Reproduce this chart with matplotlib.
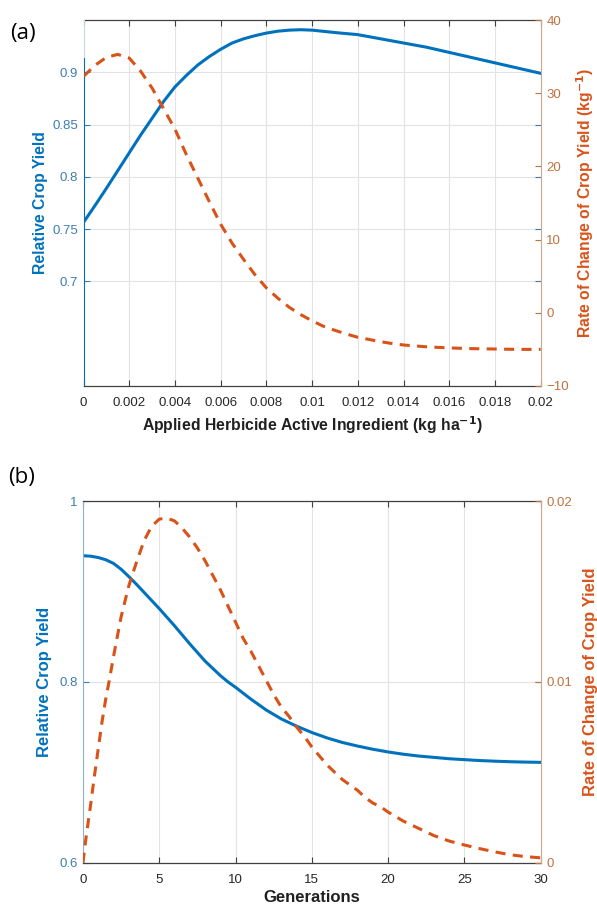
import numpy as np
import matplotlib
matplotlib.use("Agg")
import matplotlib.pyplot as plt

plt.rcParams['font.family'] = ['Liberation Sans', 'DejaVu Sans']

# ---------------- Panel (a) data ----------------
herb_x = [0.0, 0.0005, 0.001, 0.0015, 0.002, 0.0025, 0.003, 0.0035, 0.004,
          0.0045, 0.005, 0.0055, 0.006, 0.0065, 0.007, 0.0075, 0.008, 0.0085,
          0.009, 0.0095, 0.010, 0.011, 0.012, 0.013, 0.014, 0.015, 0.016,
          0.017, 0.018, 0.019, 0.020]
herb_yield = [0.7565, 0.7725, 0.789, 0.806, 0.823, 0.840, 0.856, 0.872, 0.886,
              0.897, 0.907, 0.915, 0.922, 0.928, 0.932, 0.935, 0.9375, 0.9393,
              0.9403, 0.9407, 0.9403, 0.938, 0.936, 0.932, 0.928, 0.924,
              0.919, 0.914, 0.909, 0.904, 0.899]

rate_x = [0.0, 0.0005, 0.001, 0.0015, 0.002, 0.0025, 0.003, 0.0035, 0.004,
          0.0045, 0.005, 0.0055, 0.006, 0.0065, 0.007, 0.0075, 0.008, 0.0085,
          0.009, 0.0095, 0.010, 0.0105, 0.011, 0.0115, 0.012, 0.0125, 0.013,
          0.0135, 0.014, 0.015, 0.016, 0.017, 0.018, 0.019, 0.020]
rate_a = [32.3, 33.8, 34.9, 35.3, 34.8, 33.0, 30.7, 27.9, 25.1, 21.6, 18.4,
          15.2, 12.1, 9.5, 7.3, 5.2, 3.4, 2.0, 0.75, -0.25, -1.1, -1.85, -2.4,
          -2.9, -3.35, -3.65, -3.95, -4.2, -4.4, -4.65, -4.8, -4.9, -4.95,
          -5.0, -5.0]

xticks_a = [0, 0.002, 0.004, 0.006, 0.008, 0.01, 0.012, 0.014, 0.016, 0.018, 0.02]
xticklabels_a = ['0', '0.002', '0.004', '0.006', '0.008', '0.01', '0.012',
                 '0.014', '0.016', '0.018', '0.02']
yticks_a_left = [0.7, 0.75, 0.8, 0.85, 0.9]
yticklabels_a_left = ['0.7', '0.75', '0.8', '0.85', '0.9']
yticks_a_right = [-10, 0, 10, 20, 30, 40]

# ---------------- Panel (b) data ----------------
gen_x = [0, 0.5, 1, 1.5, 2, 2.5, 3, 3.5, 4, 4.5, 5, 5.5, 6, 6.5, 7, 7.5, 8,
         8.5, 9, 9.5, 10, 11, 12, 13, 14, 15, 16, 17, 18, 19, 20, 21, 22, 23,
         24, 25, 26, 27, 28, 29, 30]
gen_yield = [0.9395, 0.939, 0.9375, 0.935, 0.931, 0.9245, 0.9165, 0.908,
             0.899, 0.890, 0.881, 0.8715, 0.862, 0.852, 0.842, 0.8325, 0.823,
             0.815, 0.807, 0.800, 0.794, 0.781, 0.769, 0.759, 0.751, 0.744,
             0.738, 0.733, 0.729, 0.7255, 0.7225, 0.720, 0.718, 0.7165, 0.715,
             0.714, 0.713, 0.7123, 0.7117, 0.7113, 0.711]

gen_rate_x = [0, 0.125, 0.25, 0.5, 0.75, 1.0, 1.25, 1.5, 1.75, 2.0, 2.5, 3.0,
              3.5, 4.0, 4.5, 5.0, 5.5, 6.0, 6.5, 7.0, 7.5, 8.0, 8.5, 9.0, 9.5,
              10, 10.5, 11, 11.5, 12, 12.5, 13, 13.5, 14, 14.5, 15, 15.5, 16,
              16.5, 17, 17.5, 18, 18.5, 19, 19.5, 20, 21, 22, 23, 24, 25, 26,
              27, 28, 29, 30]
gen_rate = [0.0, 0.0009, 0.0017, 0.0032, 0.0048, 0.0063, 0.0078, 0.0091,
            0.0102, 0.0114, 0.0136, 0.0153, 0.0166, 0.0178, 0.0186, 0.0190,
            0.01905, 0.0189, 0.0185, 0.0180, 0.0174, 0.0167, 0.0159, 0.0151,
            0.0142, 0.0133, 0.0124, 0.0117, 0.0109, 0.0101, 0.0093, 0.0086,
            0.0081, 0.0075, 0.0070, 0.0064, 0.0059, 0.0054, 0.0050, 0.0046,
            0.0043, 0.0040, 0.0036, 0.0033, 0.0031, 0.0028, 0.0023, 0.0019,
            0.0015, 0.0012, 0.00098, 0.00078, 0.0006, 0.00044, 0.00034,
            0.00027]

xticks_b = [0, 5, 10, 15, 20, 25, 30]
yticks_b_left = [0.6, 0.8, 1.0]
yticklabels_b_left = ['0.6', '0.8', '1']
yticks_b_right = [0, 0.01, 0.02]
yticklabels_b_right = ['0', '0.01', '0.02']

# ---------------- style ----------------
BLUE = '#0072BD'
ORANGE = '#D95319'
BLUE_TICK = '#3D7DB0'
ORANGE_TICK = '#C0713F'
GRID = '#E3E3E3'
FRAME = '#404040'
TICK_FS = 9.5
LABEL_FS_A = 11.3
LABEL_FS_B = 12

fig = plt.figure(figsize=(5.97, 9.05), dpi=100)


def style_axes(ax1, ax2, left_spine_color, right_spine_color):
    ax1.grid(True, color=GRID, linewidth=0.8)
    ax1.set_axisbelow(True)
    for s in ['top', 'bottom']:
        ax1.spines[s].set_color(FRAME)
        ax1.spines[s].set_linewidth(0.9)
    ax1.spines['left'].set_color(left_spine_color)
    ax1.spines['right'].set_visible(False)
    ax2.spines['right'].set_color(right_spine_color)
    ax2.spines['left'].set_visible(False)
    ax2.spines['top'].set_visible(False)
    ax2.spines['bottom'].set_visible(False)
    ax1.tick_params(axis='x', direction='in', top=True, length=4,
                    color=FRAME, labelsize=TICK_FS, labelcolor='#262626', pad=8)
    ax1.tick_params(axis='y', direction='in', length=4, right=True,
                    color=BLUE_TICK, labelsize=TICK_FS, labelcolor=BLUE_TICK, pad=4)
    ax2.tick_params(axis='y', direction='in', length=4,
                    color=ORANGE_TICK, labelsize=TICK_FS, labelcolor=ORANGE_TICK, pad=4)


DASH = (0, (3.3, 2.4))

# ---------------- (a) ----------------
axa = fig.add_axes([0.1399, 0.5735, 0.7658, 0.4044])
axa2 = axa.twinx()
axa.plot(herb_x, herb_yield, color=BLUE, linewidth=2.2)
axa2.plot(rate_x, rate_a, color=ORANGE, linewidth=2.2, linestyle=DASH)
axa.set_xlim(0, 0.02)
axa.set_ylim(0.6, 0.95)
axa2.set_ylim(-10, 40)
axa.set_xticks(xticks_a)
axa.set_xticklabels(xticklabels_a)
axa.set_yticks(yticks_a_left)
axa.set_yticklabels(yticklabels_a_left)
axa2.set_yticks(yticks_a_right)
style_axes(axa, axa2, BLUE, '#CFA888')
axa.spines['left'].set_bounds(0.6, 0.914)
axa2.spines['left'].set_visible(True)
axa2.spines['left'].set_color('#C9D9E6')
axa2.spines['left'].set_bounds(34.9, 40)
axa.set_xlabel('Applied Herbicide Active Ingredient (kg ha$^{\\mathbf{-1}}$)',
               fontsize=LABEL_FS_A, fontweight='bold', color='#202020', labelpad=4)
axa.set_ylabel('Relative Crop Yield', fontsize=LABEL_FS_A, fontweight='bold',
               color=BLUE, labelpad=3)
axa2.set_ylabel('Rate of Change of Crop Yield (kg$^{\\mathbf{-1}}$)',
                fontsize=LABEL_FS_A, fontweight='bold', color=ORANGE, labelpad=4)
fig.text(0.017, 1 - 33 / 905, '(a)', fontsize=16, family=['Open Sans', 'DejaVu Sans'],
         va='center', ha='left', color='black')

# ---------------- (b) ----------------
axb = fig.add_axes([0.139, 0.0467, 0.7667, 0.3997])
axb2 = axb.twinx()
axb.plot(gen_x, gen_yield, color=BLUE, linewidth=2.2)
axb2.plot(gen_rate_x, gen_rate, color=ORANGE, linewidth=2.2, linestyle=DASH)
axb.set_xlim(0, 30)
axb.set_ylim(0.6, 1.0)
axb2.set_ylim(0, 0.02)
axb.set_xticks(xticks_b)
axb.set_yticks(yticks_b_left)
axb.set_yticklabels(yticklabels_b_left)
axb2.set_yticks(yticks_b_right)
axb2.set_yticklabels(yticklabels_b_right)
style_axes(axb, axb2, '#8DB3CF', '#CFA888')
axb.set_xlabel('Generations', fontsize=LABEL_FS_B, fontweight='bold',
               color='#202020', labelpad=3)
axb.set_ylabel('Relative Crop Yield', fontsize=LABEL_FS_B, fontweight='bold',
               color=BLUE, labelpad=5)
axb2.set_ylabel('Rate of Change of Crop Yield', fontsize=LABEL_FS_B,
                fontweight='bold', color=ORANGE, labelpad=8)
fig.text(0.013, 1 - 477 / 905, '(b)', fontsize=16, family=['Open Sans', 'DejaVu Sans'],
         va='center', ha='left', color='black')

fig.savefig('out.png', dpi=100)
